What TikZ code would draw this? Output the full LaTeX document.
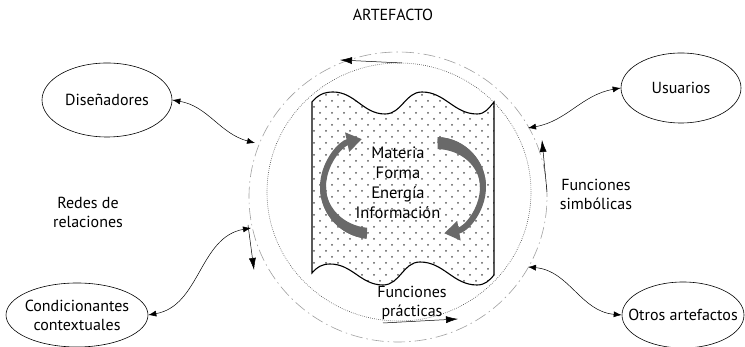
\documentclass[tikz,border=0pt]{standalone}
\usepackage{fontspec}
\setmainfont{PT Sans}
\usepackage{tikz}
\usetikzlibrary{shapes.geometric, arrows.meta, calc}
\usepackage{xcolor}
\definecolor{flecha}{RGB}{105,105,105}
\tikzset{
  actor/.style = {draw, ellipse, inner sep=0pt, line width=0.6pt},
  doble/.style = {{Latex[length=8pt,width=6pt]}-{Latex[length=8pt,width=6pt]}, line width=0.5pt},
  simple/.style = {-{Latex[length=12pt,width=7pt]}, line width=0.5pt},
  giro/.style = {line width=6pt, color=flecha, -{Triangle[length=15pt,width=19pt]}},
}
\def\hoja{(312,74) -- (312,245) to[out=50,in=180] (333,255) to[out=0,in=180] (385,233) to[out=0,in=180] (422,255) to[out=0,in=180] (477,233) to[out=0,in=230] (494,245) -- (494,72) to[out=230,in=0] (477,62) to[out=180,in=0] (420,85) to[out=180,in=0] (383,62) to[out=180,in=0] (330,83) to[out=180,in=50] (312,74) -- cycle}

\begin{document}
\begin{tikzpicture}[x=1pt, y=1pt, font=\fontsize{16}{19}\selectfont]
    \useasboundingbox (0,0) rectangle (745,347);
    % Parámetros
    \pgfmathsetmacro{\cx}{398}
    \pgfmathsetmacro{\cy}{150}
    % Círculos del artefacto
    \coordinate (centro) at (\cx,\cy);
    \draw[gray!75, line width=0.6pt, dash pattern=on 12pt off 4pt on 1.5pt off 4pt] (centro) ellipse [x radius=149, y radius=145];
    \draw[black!70, line width=0.6pt, dash pattern=on 0.7pt off 1.3pt] (399,155) ellipse [x radius=132, y radius=129];
    % Hoja punteada
    \begin{scope}
        \clip \hoja;
        \foreach \f in {0,...,33} {
            \pgfmathsetmacro{\desp}{mod(\f,2)*6}
            \foreach \c in {0,...,16}
                \fill[black!65] ({314+\desp+12*\c}, {60+6*\f}) circle (1);
        }
    \end{scope}
    \draw[line width=1.1pt] \hoja;
    % Flechas de giro
    \coordinate (giroIzq) at (372,160);
    \coordinate (giroDer) at (436,160);
    \fill[flecha] (giroIzq) ++(264:52) arc[start angle=264, end angle=180, radius=52] -- ++(6,0) arc[start angle=180, end angle=264, x radius=46, y radius=41] -- cycle;
    \draw[giro] (giroIzq) ++(264:49) arc[start angle=264, end angle=102, radius=49];
    \fill[flecha] (giroDer) ++(88:50) arc[start angle=88, end angle=0, radius=50] -- ++(-6,0) arc[start angle=0, end angle=88, x radius=44, y radius=38] -- cycle;
    \draw[giro] (giroDer) ++(88:47) arc[start angle=88, end angle=-80, radius=47];
    \node[align=center, font=\fontsize{16.5}{20}\selectfont] (elementos) at (398,164) {Materia\\Forma\\Energía\\Información};
    % Actores
    \node[actor, minimum width=130pt, minimum height=74pt, label=center:Diseñadores] (dis) at (107,247) {};
    \node[actor, minimum width=120pt, minimum height=70pt, label=center:Usuarios] (usu) at (681,259) {};
    \node[actor, minimum width=142pt, minimum height=64pt, label={[align=center]center:Condicionantes\\contextuales}] (cond) at (77,32) {};
    \node[actor, minimum width=122pt, minimum height=66pt, label=center:Otros artefactos] (otros) at (683,32) {};
    % Textos
    \node (titulo) at (393,332) {ARTEFACTO};
    \node[align=center] (redes) at (88,135) {Redes de\\relaciones};
    \node[align=center] (simb) at (596,153) {Funciones\\simbólicas};
    \node[align=center] (prac) at (412,44) {Funciones\\prácticas};
    % Puntos sobre el círculo
    \coordinate (pDis) at (255,204);
    \coordinate (pCond) at (251,119);
    \coordinate (pUsu) at (528,219);
    \coordinate (pOtros) at (528,80);
    \draw[doble] (dis.east) to[out=-10,in=165] (pDis);
    \draw[doble] (cond.east) to[out=10,in=190] (pCond);
    \draw[doble] (usu.west) to[out=190,in=10] (pUsu);
    \draw[doble] (pOtros) to[out=-5,in=175] (otros.west);
    % Flechas cortas
    \coordinate (arr1) at (402,284);
    \coordinate (arr2) at (340,287);
    \coordinate (izq1) at (248,122);
    \coordinate (izq2) at (254,77);
    \coordinate (der1) at (547,155);
    \coordinate (der2) at (542,207);
    \coordinate (aba1) at (383,24);
    \coordinate (aba2) at (458,28);
    \draw[simple] (arr1) -- (arr2);
    \draw[simple] (izq1) -- (izq2);
    \draw[simple] (der1) -- (der2);
    \draw[simple] (aba1) -- (aba2);
\end{tikzpicture}
\end{document}
